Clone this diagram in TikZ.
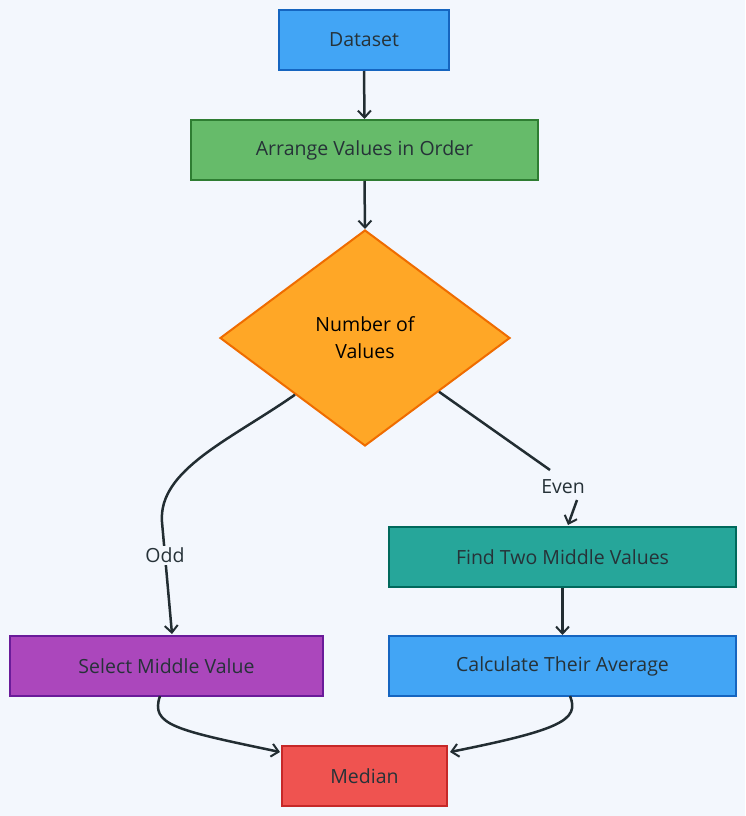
\documentclass[tikz,border=0pt]{standalone}
\usepackage{fontspec}
\setmainfont{Open Sans}
\usetikzlibrary{shapes.geometric,arrows.meta}
\definecolor{bg}{HTML}{F3F7FD}
\definecolor{txt}{HTML}{263238}
\definecolor{blueF}{HTML}{42A5F5}\definecolor{blueB}{HTML}{1565C0}
\definecolor{greenF}{HTML}{66BB6A}\definecolor{greenB}{HTML}{2E7D32}
\definecolor{orangeF}{HTML}{FFA726}\definecolor{orangeB}{HTML}{EF6C00}
\definecolor{tealF}{HTML}{26A69A}\definecolor{tealB}{HTML}{00695C}
\definecolor{purpF}{HTML}{AB47BC}\definecolor{purpB}{HTML}{6A1B9A}
\definecolor{redF}{HTML}{EF5350}\definecolor{redB}{HTML}{C62828}
\tikzset{
  box/.style={draw, line width=2pt, text=txt, inner sep=0pt, align=center,
    font=\fontsize{19.5}{27}\selectfont},
  conn/.style={draw=txt!90!black, line width=2.5pt,
    -{Straight Barb[length=7pt,width=13pt,line width=2pt]}},
  elabel/.style={fill=bg, text=txt, inner sep=2pt, font=\fontsize{19.5}{23}\selectfont}
}
\begin{document}
\begin{tikzpicture}[x=1pt,y=-1pt]
\fill[bg] (0,0) rectangle (745,816);
\useasboundingbox (0,0) rectangle (745,816);
\node[box, fill=blueF, draw=blueB, minimum width=170pt, minimum height=60pt] (ds) at (364,40) {Dataset};
\node[box, fill=greenF, draw=greenB, minimum width=347pt, minimum height=60pt] (ar) at (364.5,150) {Arrange Values in Order};
\node[box, shape=diamond, fill=orangeF, draw=orangeB, text=black, aspect=1.34, minimum width=290pt, minimum height=216pt] (dia) at (365,338) {Number of\\Values};
\node[box, fill=tealF, draw=tealB, minimum width=347pt, minimum height=60pt] (fd) at (562.5,557) {Find Two Middle Values};
\node[box, fill=purpF, draw=purpB, minimum width=313pt, minimum height=60pt] (sm) at (166.5,666) {Select Middle Value};
\node[box, fill=blueF, draw=blueB, minimum width=347pt, minimum height=60pt] (ca) at (562.5,666) {Calculate Their Average};
\node[box, fill=redF, draw=redB, minimum width=165pt, minimum height=60pt] (md) at (364.5,776) {Median};

\draw[conn] (ds.south) -- (ar.north);
\draw[conn] (ar.south) -- (dia.north);
\draw[conn] (dia.219) .. controls (230,440) and (158,470) .. (162,522) -- (172,634) node[elabel, pos=0.3] {Odd};
\draw[conn] (dia.-36) -- (550,470) node[elabel, pos=1, anchor=north west, xshift=-12pt, yshift=-6pt] {Even} (577,500) -- (568,525);
\draw[conn] (fd.south) -- (ca.north);
\draw[conn] (160,696) .. controls (150,725) and (175,730) .. (280,752);
\draw[conn] (570,696) .. controls (580,720) and (560,730) .. (450,752);
\end{tikzpicture}
\end{document}
